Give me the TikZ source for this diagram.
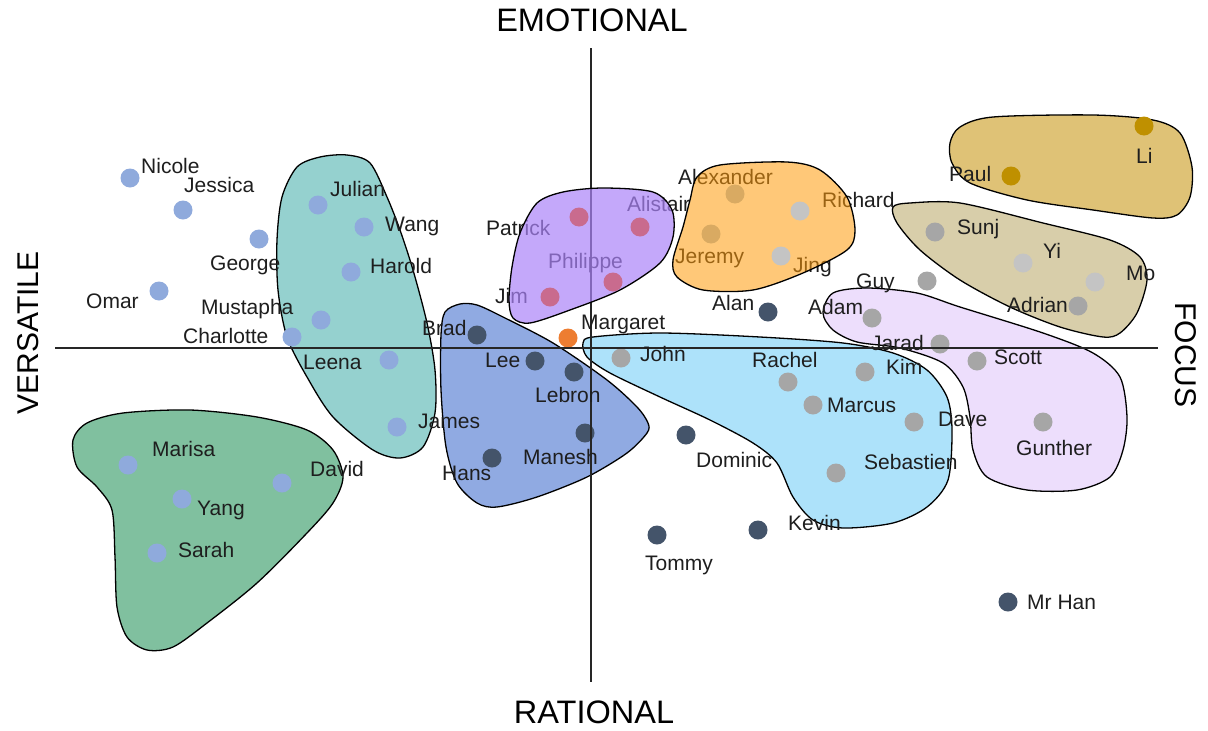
\documentclass[tikz,border=0pt]{standalone}
\usepackage{fontspec}
\setmainfont{Liberation Sans}

\definecolor{tealblob}{RGB}{149,209,207}
\definecolor{greenblob}{RGB}{128,192,159}
\definecolor{blueblob}{RGB}{144,170,226}
\definecolor{skyblob}{RGB}{173,226,250}
\definecolor{lilacblob}{RGB}{237,222,252}
\definecolor{tanblob}{RGB}{216,206,170}
\definecolor{goldblob}{RGB}{223,194,118}
\definecolor{orangeblob}{RGB}{255,155,10}
\definecolor{purpleblob}{RGB}{171,131,248}
\definecolor{dotblue}{RGB}{143,170,220}
\definecolor{dotnavy}{RGB}{68,84,106}
\definecolor{dotpink}{RGB}{201,107,142}
\definecolor{dotorange}{RGB}{237,125,49}
\definecolor{dotgray}{RGB}{166,166,166}
\definecolor{dotlight}{RGB}{196,196,196}
\definecolor{dotgold}{RGB}{191,144,0}
\definecolor{dottan}{RGB}{217,170,98}
\definecolor{ink}{RGB}{30,30,30}

\tikzset{
  person/.style={circle, fill=#1, minimum size=19pt, inner sep=0pt},
  who/.style={anchor=west, inner sep=0pt, text height=15pt, text depth=0pt,
    font=\fontsize{21}{24}\selectfont, text=ink},
  pole/.style={inner sep=0pt, font=\fontsize{30}{34}\selectfont},
  bigpole/.style={inner sep=0pt, font=\fontsize{32.5}{36}\selectfont},
  blob/.style={draw=black, line width=1.3pt, fill=#1},
}

\begin{document}
\begin{tikzpicture}[x=1pt, y=-1pt]
\useasboundingbox (0,0) rectangle (1208,731);

% groups
\filldraw[blob=tealblob] plot[smooth cycle] coordinates {(347,155) (370,163) (387,197) (400,230) (413,270) (427,323) (435,370) (435,413) (423,447) (400,458) (373,450) (333,417) (307,377) (287,337) (278,290) (277,240) (282,197) (297,167) (320,157)};
\filldraw[blob=greenblob] plot[smooth cycle] coordinates {(73,440) (87,423) (123,413) (190,410) (257,417) (307,430) (333,450) (343,477) (333,503) (307,533) (257,583) (207,623) (173,647) (147,650) (127,637) (117,607) (115,557) (112,510) (97,487) (77,467)};
\filldraw[blob=blueblob] plot[smooth cycle] coordinates {(460,304) (445,312) (441,335) (441,390) (446,447) (457,483) (477,503) (497,507) (537,497) (587,477) (627,453) (647,433) (648,423) (637,407) (607,380) (553,343) (503,317) (477,305)};
\filldraw[blob=skyblob] plot[smooth cycle] coordinates {(583,343) (593,337) (660,333) (760,337) (843,343) (893,353) (927,370) (947,397) (952,430) (948,480) (927,507) (893,523) (843,528) (813,520) (793,497) (777,463) (753,443) (710,420) (660,397) (610,373) (587,357)};
\filldraw[blob=lilacblob] plot[smooth cycle] coordinates {(833,293) (867,288) (917,293) (960,307) (1043,333) (1093,353) (1120,377) (1127,417) (1123,450) (1110,477) (1077,490) (1027,490) (987,477) (973,450) (970,417) (963,387) (943,363) (900,348) (857,342) (833,330) (823,313)};
\filldraw[blob=tanblob] plot[smooth cycle] coordinates {(893,207) (910,203) (960,203) (1043,223) (1110,240) (1140,257) (1147,280) (1137,313) (1120,333) (1103,337) (1060,327) (1010,307) (960,280) (920,250) (897,223)};
\filldraw[blob=goldblob] plot[smooth cycle] coordinates {(950,143) (960,127) (993,117) (1093,115) (1153,120) (1180,133) (1192,167) (1190,197) (1177,215) (1153,218) (1093,210) (1027,200) (970,183) (952,163)};

% people
\node (nicole) [person=dotblue] at (130,178) {};
\node (jessica) [person=dotblue] at (183,210) {};
\node (george) [person=dotblue] at (259,239) {};
\node (omar) [person=dotblue] at (159,291) {};
\node (mustapha) [person=dotblue] at (321,320) {};
\node (charlotte) [person=dotblue] at (292,337) {};
\node (julian) [person=dotblue] at (318,205) {};
\node (wang) [person=dotblue] at (364,227) {};
\node (harold) [person=dotblue] at (351,272) {};
\node (leena) [person=dotblue] at (389,360) {};
\node (james) [person=dotblue] at (397,427) {};
\node (marisa) [person=dotblue] at (128,465) {};
\node (yang) [person=dotblue] at (182,499) {};
\node (sarah) [person=dotblue] at (157,553) {};
\node (david) [person=dotblue] at (282,483) {};

\node (brad) [person=dotnavy] at (477,335) {};
\node (lee) [person=dotnavy] at (535,361) {};
\node (lebron) [person=dotnavy] at (574,372) {};
\node (manesh) [person=dotnavy] at (585,433) {};
\node (hans) [person=dotnavy] at (492,458) {};
\node (alan) [person=dotnavy] at (768,312) {};
\node (dominic) [person=dotnavy] at (686,435) {};
\node (kevin) [person=dotnavy] at (758,530) {};
\node (tommy) [person=dotnavy] at (657,535) {};
\node (mrhan) [person=dotnavy] at (1008,602) {};

\node (margaret) [person=dotorange] at (568,338) {};

\node (john) [person=dotgray] at (621,358) {};
\node (rachel) [person=dotgray] at (788,382) {};
\node (marcus) [person=dotgray] at (813,405) {};
\node (kim) [person=dotgray] at (865,372) {};
\node (dave) [person=dotgray] at (914,422) {};
\node (sebastien) [person=dotgray] at (836,473) {};
\node (guy) [person=dotgray] at (927,281) {};
\node (adam) [person=dotgray] at (872,318) {};
\node (jarad) [person=dotgray] at (940,344) {};
\node (scott) [person=dotgray] at (977,361) {};
\node (gunther) [person=dotgray] at (1043,422) {};
\node (sunj) [person=dotgray] at (935,232) {};
\node (adrian) [person=dotgray] at (1078,306) {};
\node (yi) [person=dotlight] at (1023,263) {};
\node (mo) [person=dotlight] at (1095,282) {};

\node (li) [person=dotgold] at (1144,126) {};
\node (paul) [person=dotgold] at (1011,176) {};

% axes
\draw[line width=1.3pt, black!85] (55,348) -- (1158,348);
\draw[line width=1.3pt, black!85] (591,48) -- (591,682);

\node (emotional) [bigpole] at (592,20) {EMOTIONAL};
\node (rational) [bigpole] at (594,712) {RATIONAL};
\node (versatile) [pole, rotate=90] at (28,333) {VERSATILE};
\node (focus) [pole, rotate=-90] at (1186,355) {FOCUS};

% names
\node (nicole-t) [who] at (141,166) {Nicole};
\node (jessica-t) [who] at (184,185) {Jessica};
\node (george-t) [who] at (210,263) {George};
\node (omar-t) [who] at (86,301) {Omar};
\node (mustapha-t) [who] at (201,307) {Mustapha};
\node (charlotte-t) [who] at (183,336) {Charlotte};
\node (julian-t) [who] at (330,189) {Julian};
\node (wang-t) [who] at (385,224) {Wang};
\node (harold-t) [who] at (370,266) {Harold};
\node (leena-t) [who] at (303,362) {Leena};
\node (james-t) [who] at (418,421) {James};
\node (marisa-t) [who] at (152,449) {Marisa};
\node (yang-t) [who] at (197,508) {Yang};
\node (sarah-t) [who] at (178,550) {Sarah};
\node (david-t) [who] at (310,469) {David};
\node (patrick-t) [who] at (486,228) {Patrick};
\node (alistair-t) [who] at (627,204) {Alistair};
\node (philippe-t) [who] at (548,261) {Philippe};
\node (jim-t) [who] at (495,296) {Jim};
\node (brad-t) [who] at (422,328) {Brad};
\node (margaret-t) [who] at (581,322) {Margaret};
\node (lee-t) [who] at (485,360) {Lee};
\node (lebron-t) [who] at (535,395) {Lebron};
\node (manesh-t) [who] at (523,457) {Manesh};
\node (hans-t) [who] at (442,473) {Hans};
\node (alexander-t) [who] at (678,177) {Alexander};
\node (richard-t) [who] at (822,200) {Richard};
\node (jeremy-t) [who] at (675,256) {Jeremy};
\node (jing-t) [who] at (793,265) {Jing};
\node (alan-t) [who] at (712,303) {Alan};
\node (guy-t) [who] at (856,281) {Guy};
\node (adam-t) [who] at (808,307) {Adam};
\node (jarad-t) [who] at (871,343) {Jarad};
\node (kim-t) [who] at (886,367) {Kim};
\node (scott-t) [who] at (994,357) {Scott};
\node (john-t) [who] at (640,354) {John};
\node (rachel-t) [who] at (752,360) {Rachel};
\node (marcus-t) [who] at (827,405) {Marcus};
\node (dave-t) [who] at (938,419) {Dave};
\node (gunther-t) [who] at (1016,448) {Gunther};
\node (sebastien-t) [who] at (864,462) {Sebastien};
\node (dominic-t) [who] at (696,460) {Dominic};
\node (kevin-t) [who] at (788,523) {Kevin};
\node (tommy-t) [who] at (645,563) {Tommy};
\node (mrhan-t) [who] at (1027,602) {Mr Han};
\node (paul-t) [who] at (949,174) {Paul};
\node (li-t) [who] at (1136,156) {Li};
\node (sunj-t) [who] at (957,227) {Sunj};
\node (yi-t) [who] at (1043,251) {Yi};
\node (mo-t) [who] at (1126,273) {Mo};
\node (adrian-t) [who] at (1007,305) {Adrian};

% see-through groups on top
\filldraw[blob=purpleblob, fill opacity=0.7] plot[smooth cycle] coordinates {(537,203) (563,192) (603,188) (653,192) (672,210) (673,237) (660,263) (620,290) (570,310) (530,323) (513,318) (509,300) (512,267) (520,233)};
\filldraw[blob=orangeblob, fill opacity=0.55] plot[smooth cycle] coordinates {(697,177) (720,165) (787,162) (820,170) (847,197) (855,230) (847,250) (803,273) (753,290) (703,290) (677,277) (673,260) (683,227) (690,200)};

\node (patrick) [person=dotpink] at (579,217) {};
\node (alistair) [person=dotpink] at (640,227) {};
\node (philippe) [person=dotpink] at (613,282) {};
\node (jim) [person=dotpink] at (550,297) {};
\node (alexander) [person=dottan] at (735,194) {};
\node (jeremy) [person=dottan] at (711,234) {};
\node (richard) [person=dotlight] at (800,211) {};
\node (jing) [person=dotlight] at (781,256) {};
\end{tikzpicture}
\end{document}
